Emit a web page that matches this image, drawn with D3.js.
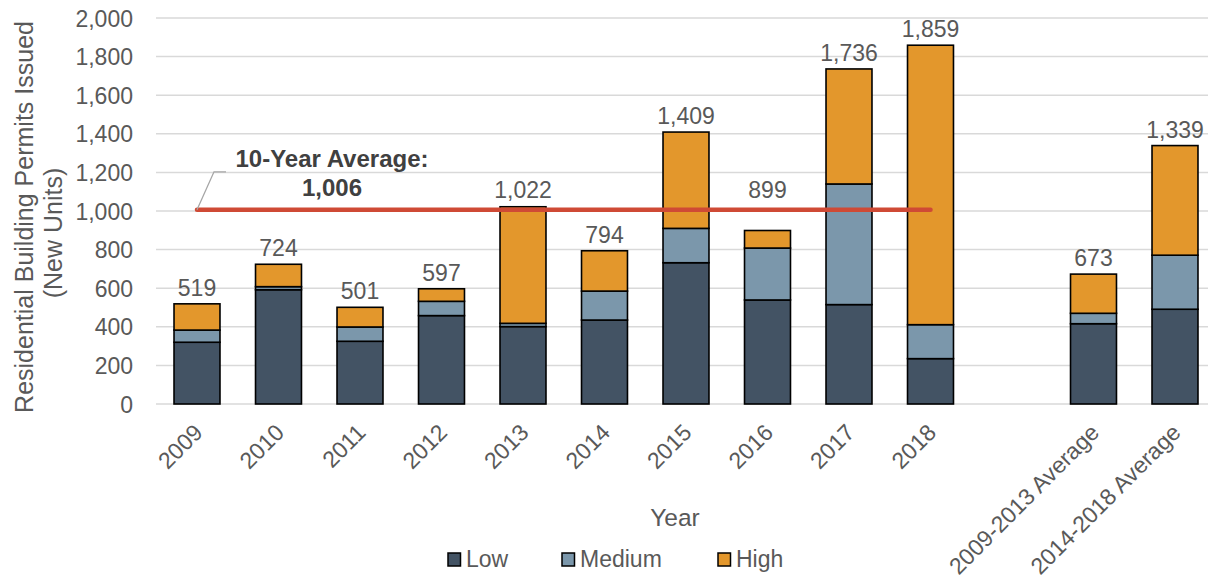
<!DOCTYPE html>
<html>
<head>
<meta charset="utf-8">
<script src="https://cdn.jsdelivr.net/npm/d3@7"></script>
<style>
  html, body { margin: 0; padding: 0; background: #fff; }
  svg { display: block; font-family: "Liberation Sans", Arial, sans-serif; }
</style>
</head>
<body>
<svg id="chart" width="1208" height="584"></svg>
<script>
// Residential building permits by affordability tier (new units)
const categories = ["2009", "2010", "2011", "2012", "2013", "2014", "2015", "2016", "2017", "2018", "", "2009-2013 Average", "2014-2018 Average"];
const seriesNames = ["Low", "Medium", "High"];
const lowValues    = [320, 592, 325, 458, 401, 435, 732, 539, 515, 235, null, 416, 491];
const mediumValues = [ 63,  16,  74,  74,  17, 150, 178, 269, 625, 176, null,  54, 280];
const highValues   = [136, 116, 102,  65, 604, 209, 499,  91, 596, 1448, null, 203, 568];
const totalLabels  = ["519", "724", "501", "597", "1,022", "794", "1,409", "899", "1,736", "1,859", "", "673", "1,339"];
const yTicks = [0, 200, 400, 600, 800, 1000, 1200, 1400, 1600, 1800, 2000];
const tenYearAverage = 1006;
const averageFirst = "2009", averageLast = "2018";

const colors = { Low: "#435364", Medium: "#7b97ab", High: "#e3972c" };
const textColor = "#595959";
const fontSize = 23;

const svg = d3.select("#chart");

const x = d3.scaleBand()
  .domain(categories)
  .range([156.25, 1215.75])
  .paddingInner(0.436)
  .paddingOuter(0.218);

const y = d3.scaleLinear().domain([0, 2000]).range([404, 18]);

// Gridlines
svg.append("g")
  .selectAll("line")
  .data(yTicks)
  .join("line")
  .attr("x1", 156).attr("x2", 1208)
  .attr("y1", d => y(d)).attr("y2", d => y(d))
  .attr("stroke", "#d9d9d9")
  .attr("stroke-width", 1.5);

// Y axis labels
const yAxis = d3.axisLeft(y).tickValues(yTicks).tickFormat(d3.format(",")).tickSize(0).tickPadding(0);
const yg = svg.append("g").attr("transform", "translate(133,0)").call(yAxis);
yg.select(".domain").remove();
yg.selectAll("text")
  .attr("fill", textColor)
  .attr("font-size", fontSize + "px")
  .attr("font-family", "Liberation Sans, Arial, sans-serif")
  .attr("dy", "0.35em");

// Stacked bars
const rows = categories.map((c, i) => ({ cat: c, Low: lowValues[i], Medium: mediumValues[i], High: highValues[i] }))
  .filter(r => r.cat !== "");
const stacked = d3.stack().keys(seriesNames)(rows);

svg.append("g")
  .selectAll("g")
  .data(stacked)
  .join("g")
  .attr("fill", d => colors[d.key])
  .selectAll("rect")
  .data(d => d)
  .join("rect")
  .attr("x", d => x(d.data.cat))
  .attr("width", x.bandwidth())
  .attr("y", d => y(d[1]))
  .attr("height", d => y(d[0]) - y(d[1]))
  .attr("stroke", "#000")
  .attr("stroke-width", 1.6);

// Total labels above bars; a label that would sit on the average line is lifted above it
const avgY = y(tenYearAverage);
const lineCats = categories.slice(categories.indexOf(averageFirst), categories.indexOf(averageLast) + 1);
function labelY(d) {
  const base = y(d.Low + d.Medium + d.High) - 8;
  if (lineCats.includes(d.cat) && base > avgY - 12 && base - 17 < avgY + 3) return avgY - 12;
  return base;
}
svg.append("g")
  .selectAll("text")
  .data(rows)
  .join("text")
  .attr("x", d => x(d.cat) + x.bandwidth() / 2)
  .attr("y", labelY)
  .attr("text-anchor", "middle")
  .attr("fill", textColor)
  .attr("font-size", fontSize + "px")
  .text(d => totalLabels[categories.indexOf(d.cat)]);

// Ten-year average line
const avgX1 = x(averageFirst) + x.bandwidth() / 2;
const avgX2 = x(averageLast) + x.bandwidth() / 2;
svg.append("line")
  .attr("x1", avgX1).attr("x2", avgX2)
  .attr("y1", avgY).attr("y2", avgY)
  .attr("stroke", "#cf4a35")
  .attr("stroke-width", 4.5)
  .attr("stroke-linecap", "round");

// Callout for the average
svg.append("polyline")
  .attr("points", [[avgX1, avgY], [avgX1 + 17, avgY - 38], [avgX1 + 29, avgY - 38]].map(p => p.join(",")).join(" "))
  .attr("fill", "none")
  .attr("stroke", "#a6a6a6")
  .attr("stroke-width", 1.3);

const callout = svg.append("text")
  .attr("text-anchor", "middle")
  .attr("fill", "#404040")
  .attr("font-size", "24px")
  .attr("font-weight", "bold");
callout.append("tspan").attr("x", 332).attr("y", 167).text("10-Year Average:");
callout.append("tspan").attr("x", 332).attr("y", 196).text(d3.format(",")(tenYearAverage));

// X axis labels
svg.append("g")
  .selectAll("text")
  .data(categories.filter(c => c !== ""))
  .join("text")
  .attr("transform", d => `translate(${x(d) + x.bandwidth() / 2 + 7},434) rotate(-45)`)
  .attr("text-anchor", "end")
  .attr("fill", textColor)
  .attr("font-size", fontSize + "px")
  .text(d => d);

// Axis titles
svg.append("text")
  .attr("x", 675).attr("y", 526)
  .attr("text-anchor", "middle")
  .attr("fill", textColor)
  .attr("font-size", "24.5px")
  .text("Year");

const yTitle = svg.append("g")
  .attr("fill", textColor)
  .attr("font-size", "25px")
  .attr("text-anchor", "middle");
yTitle.append("text")
  .attr("transform", "translate(33,217) rotate(-90)")
  .text("Residential Building Permits Issued");
yTitle.append("text")
  .attr("transform", "translate(62,233) rotate(-90)")
  .text("(New Units)");

// Legend
const legendPos = [{ key: "Low", x: 448 }, { key: "Medium", x: 562 }, { key: "High", x: 718 }];
const legend = svg.append("g").selectAll("g").data(legendPos).join("g")
  .attr("transform", d => `translate(${d.x},553)`);
legend.append("rect")
  .attr("width", 12.5).attr("height", 13)
  .attr("fill", d => colors[d.key])
  .attr("stroke", "#000")
  .attr("stroke-width", 1.5);
legend.append("text")
  .attr("x", 18).attr("y", 14)
  .attr("fill", textColor)
  .attr("font-size", fontSize + "px")
  .text(d => d.key);
</script>
</body>
</html>
